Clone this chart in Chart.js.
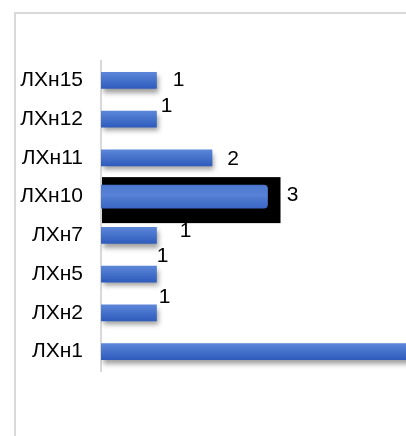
<!DOCTYPE html>
<html><head><meta charset="utf-8">
<script src="https://cdn.jsdelivr.net/npm/chart.js@4"></script>
<style>html,body{margin:0;padding:0;background:#fff;overflow:hidden}#wrap{width:406px;height:436px;position:relative}</style>
</head><body><div id="wrap"><canvas id="c" width="406" height="436"></canvas></div>
<script>
const categories = ['ЛХн15','ЛХн12','ЛХн11','ЛХн10','ЛХн7','ЛХн5','ЛХн2','ЛХн1'];
const values = [1, 1, 2, 3, 1, 1, 1, 6];
const highlighted = 'ЛХн10';
// label nudges (style only): [dx from bar end, dy from bar centre]
const labelNudge = [[22,0],[10,-13],[21,1],[25,-1],[29,-4],[6,-18],[8,-15.5],[20,0]];

const FONT = '"Liberation Sans", Arial, sans-serif';
const hi = categories.indexOf(highlighted);

function barGrad(ctx, half, stops){
  const c = ctx.chart;
  const ys = c.scales && c.scales.y;
  if (!ys || !c.chartArea) return '#4472c4';
  const py = ys.getPixelForValue(ctx.dataIndex);
  const g = c.ctx.createLinearGradient(0, py - half, 0, py + half);
  stops.forEach(s => g.addColorStop(s[0], s[1]));
  return g;
}

const framePlugin = {
  id: 'frame',
  beforeDraw(chart){
    const ctx = chart.ctx;
    ctx.save();
    ctx.fillStyle = '#fff';
    ctx.fillRect(0,0,chart.width,chart.height);
    ctx.strokeStyle = '#d9d9d9';
    ctx.lineWidth = 2;
    ctx.strokeRect(15, 13, chart.width + 20, chart.height + 20);
    ctx.restore();
  }
};

const highlightBox = {
  id: 'highlightBox',
  beforeDatasetsDraw(chart){
    const meta = chart.getDatasetMeta(1);
    const el = meta.data[hi];
    if (!el) return;
    const ctx = chart.ctx;
    ctx.save();
    ctx.fillStyle = '#000';
    const left = chart.chartArea.left + 1;
    ctx.fillRect(left, el.y - 19.5, el.x + 13 - left, 46);
    ctx.restore();
  }
};

const shadowPlugin = {
  id: 'barShadow',
  beforeDatasetDraw(chart, args){
    if (args.index !== 0) return;
    const ctx = chart.ctx;
    ctx.save();
    ctx.shadowColor = 'rgba(0,0,0,0.38)';
    ctx.shadowBlur = 5;
    ctx.shadowOffsetX = 2;
    ctx.shadowOffsetY = 4;
  },
  afterDatasetDraw(chart, args){
    if (args.index !== 0) return;
    chart.ctx.restore();
  }
};

const valueLabels = {
  id: 'valueLabels',
  afterDatasetsDraw(chart){
    const ctx = chart.ctx;
    ctx.save();
    ctx.font = '21px ' + FONT;
    ctx.fillStyle = '#000';
    ctx.textAlign = 'center';
    ctx.textBaseline = 'middle';
    values.forEach((v, i) => {
      const el = chart.getDatasetMeta(i === hi ? 1 : 0).data[i];
      if (!el) return;
      const n = labelNudge[i];
      ctx.fillText(String(v), el.x + n[0], el.y + n[1]);
    });
    ctx.restore();
  }
};

new Chart(document.getElementById('c'), {
  type: 'bar',
  data: {
    labels: categories,
    datasets: [
      {
        data: values.map((v, i) => i === hi ? null : v),
        barThickness: 16,
        grouped: false,
        borderWidth: 0,
        backgroundColor: ctx => barGrad(ctx, 8, [[0,'#5b86d8'],[1,'#2f5cbd']])
      },
      {
        data: values.map((v, i) => i === hi ? v : null),
        barThickness: 23,
        grouped: false,
        borderWidth: 0,
        borderRadius: 4,
        borderSkipped: 'start',
        backgroundColor: ctx => barGrad(ctx, 11.5, [[0,'#4a74cc'],[0.1,'#4f7bd2'],[0.45,'#5882d6'],[0.6,'#4c77cf'],[1,'#3c68c6']])
      }
    ]
  },
  options: {
    indexAxis: 'y',
    responsive: false,
    animation: false,
    devicePixelRatio: 1,
    layout: { padding: { top: 61, bottom: 65, left: 0, right: 0 } },
    plugins: { legend: { display: false }, tooltip: { enabled: false } },
    scales: {
      x: { display: false, min: 0, max: 5.495 },
      y: {
        afterFit(s){ s.width = 101; },
        grid: { display: false, drawTicks: false },
        border: { display: true, color: '#d9d9d9', width: 2 },
        ticks: { color: '#000', font: { family: FONT, size: 21 }, padding: 18 }
      }
    }
  },
  plugins: [framePlugin, highlightBox, shadowPlugin, valueLabels]
});
</script>
</body></html>
